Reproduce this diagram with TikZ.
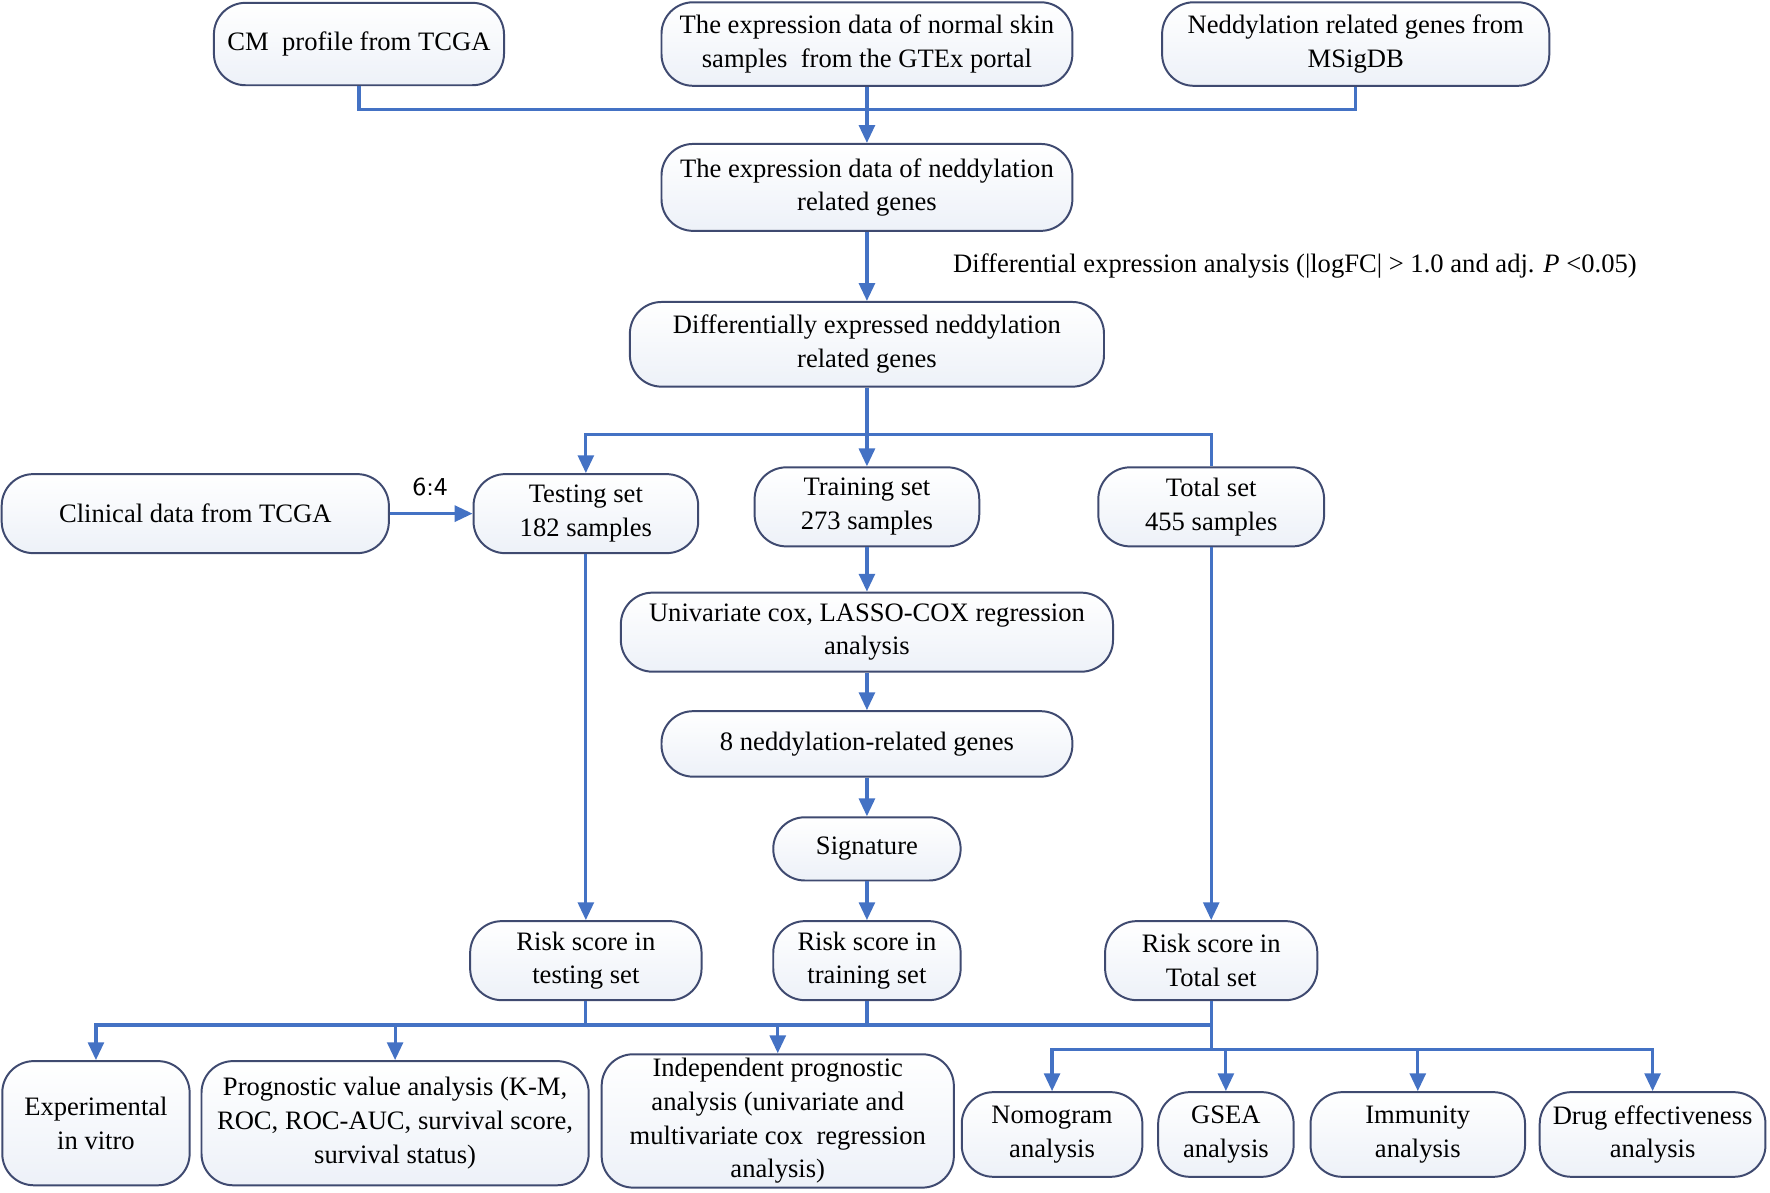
\documentclass[tikz,border=0pt]{standalone}
\usepackage{fontspec}
\setmainfont{Liberation Serif}
\usetikzlibrary{arrows.meta}
\definecolor{ln}{HTML}{4472C4}
\definecolor{bd}{HTML}{3F4A70}
\definecolor{fl}{HTML}{EDF1F8}
\begin{document}
\begin{tikzpicture}[x=0.01cm,y=-0.01cm,
  box/.style 2 args={draw=bd,line width=0.5pt,top color=white,bottom color=fl,rounded corners=0.28cm,
    minimum width=#1*0.01cm,minimum height=#2*0.01cm,inner sep=1pt,align=center,
    font=\fontsize{6.7}{8.5}\selectfont},
  ln/.style={draw=ln,line width=0.8pt},
  ar/.style={ln,-{Triangle[length=4.5pt,width=4pt]}}]
\useasboundingbox (0,0) rectangle (1568,1056);
\node[box={257}{73}] (cm) at (318,39) {CM~ profile from TCGA};
\node[box={364}{74}] (gt) at (768,39) {The expression data of normal skin\\samples~ from the GTEx portal};
\node[box={343}{74}] (ms) at (1201,39) {Neddylation related genes from\\MSigDB};
\node[box={364}{77}] (ed) at (768,166) {The expression data of neddylation\\related genes};
\node[box={420}{75}] (de) at (768,305) {Differentially expressed neddylation\\related genes};
\node[box={343}{70}] (cl) at (173,455) {Clinical data from TCGA};
\node[box={199}{70}] (te) at (519,455) {Testing set\\182 samples};
\node[box={199}{70}] (tr) at (768,449) {Training set\\273 samples};
\node[box={200}{70}] (to) at (1073,449) {Total set\\455 samples};
\node[box={436}{70}] (un) at (768,560) {Univariate cox, LASSO-COX regression\\analysis};
\node[box={364}{58}] (g8) at (768,659) {8 neddylation-related genes};
\node[box={166}{56}] (sg) at (768,752) {Signature};
\node[box={205}{70}] (rte) at (519,851) {Risk score in\\testing set};
\node[box={166}{70}] (rtr) at (768,851) {Risk score in\\training set};
\node[box={188}{70}] (rto) at (1073,851) {Risk score in\\Total set};
\node[box={166}{110}] (ex) at (85,995) {Experimental\\in vitro};
\node[box={343}{110}] (pv) at (350,995) {Prognostic value analysis (K-M,\\ROC, ROC-AUC, survival score,\\survival status)};
\node[box={312}{114}] (ip) at (689,993) {Independent prognostic\\analysis (univariate and\\multivariate cox~ regression\\analysis)};
\node[box={160}{75}] (nm) at (932,1005) {Nomogram\\analysis};
\node[box={120}{75}] (gs) at (1086,1005) {GSEA\\analysis};
\node[box={190}{75}] (im) at (1256,1005) {Immunity\\analysis};
\node[box={200}{75}] (dr) at (1464,1005) {Drug effectiveness\\analysis};
\node[font=\fontsize{6.7}{8.5}\selectfont,anchor=west] (lab) at (832,236) {Differential expression analysis (|logFC| > 1.0 and adj. \textit{P} <0.05)};
\node[font=\sffamily\fontsize{6.5}{8}\selectfont] (r64) at (381,431) {6:4};
% top merge
\coordinate (j1) at (768,97);
\draw[ln] (cm.south) |- (j1) -| (ms.south);
\draw[ar] (gt.south) -- (ed.north);
\draw[ar] (ed.south) -- (de.north);
\coordinate (j2) at (768,385);
\draw[ln] (de.south) -- (j2);
\draw[ar] (j2) -| (te.north);
\draw[ar] (j2) -- (tr.north);
\draw[ln] (j2) -| (to.north);
\draw[ar] (cl.east) -- (te.west);
\draw[ar] (tr.south) -- (un.north);
\draw[ar] (un.south) -- (g8.north);
\draw[ar] (g8.south) -- (sg.north);
\draw[ar] (sg.south) -- (rtr.north);
\draw[ar] (te.south) -- (rte.north);
\draw[ar] (to.south) -- (rto.north);
% bottom
\coordinate (b1) at (1073,908);
\coordinate (b2) at (1073,930);
\draw[ln] (rte.south) |- (b1);
\draw[ln] (rtr.south) -- (768,908);
\draw[ln] (rto.south) -- (b2);
\draw[ar] (b1) -| (ex.north);
\draw[ar] (b1) -| (pv.north);
\draw[ar] (b1) -| (ip.north);
\draw[ar] (b2) -| (nm.north);
\draw[ar] (b2) -| (gs.north);
\draw[ar] (b2) -| (im.north);
\draw[ar] (b2) -| (dr.north);
\end{tikzpicture}
\end{document}
